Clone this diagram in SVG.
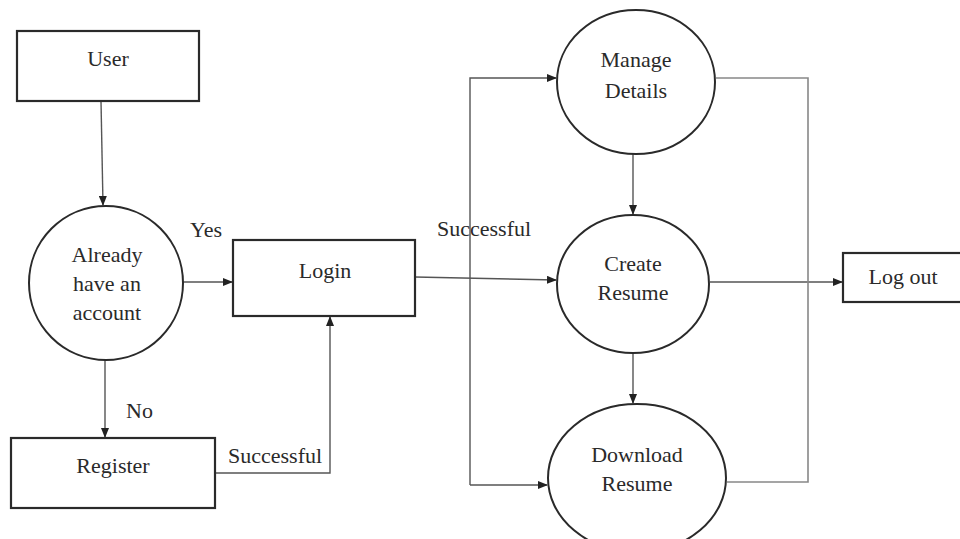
<svg xmlns="http://www.w3.org/2000/svg" width="960" height="539" viewBox="0 0 960 539">
<style>
.box{fill:#fff;stroke:#2a2a2a;stroke-width:2.2}
.proc{fill:#fff;stroke:#2a2a2a;stroke-width:2}
.t{font-family:"Liberation Serif","Times New Roman",serif;font-size:22px;fill:#2a2a2a;text-anchor:middle}
.lbl{font-family:"Liberation Serif","Times New Roman",serif;font-size:22px;fill:#2a2a2a}
.c{fill:none;stroke:#555;stroke-width:1.4}
.c2{fill:none;stroke:#888;stroke-width:1.6}
</style>
<defs>
<marker id="ah" markerUnits="userSpaceOnUse" markerWidth="10" markerHeight="8" refX="9" refY="4" orient="auto">
<path d="M0,0 L10,4 L0,8 z" fill="#222"/>
</marker>
</defs>
<rect width="960" height="539" fill="#fff"/>
<g id="connectors">
<path class="c" d="M101,101 L103,205" marker-end="url(#ah)"/>
<path class="c" d="M183,282 L232,282" marker-end="url(#ah)"/>
<path class="c" d="M105,360 L105,437" marker-end="url(#ah)"/>
<path class="c" d="M215,473 L330,473 L330,317" marker-end="url(#ah)"/>
<path class="c" d="M415,277 L556,280" marker-end="url(#ah)"/>
<path class="c" d="M470,485 L470,78 L556,78" marker-end="url(#ah)"/>
<path class="c" d="M470,485 L547,485" marker-end="url(#ah)"/>
<path class="c" d="M633,154 L633,214" marker-end="url(#ah)"/>
<path class="c" d="M710,282 L842,282" marker-end="url(#ah)"/>
<path class="c" d="M633,353 L633,403" marker-end="url(#ah)"/>
<path class="c2" d="M716,78 L808,78 L808,482 L727,482"/>
<text class="lbl" x="190" y="237">Yes</text>
<text class="lbl" x="126" y="418">No</text>
<text class="lbl" x="228" y="463">Successful</text>
<text class="lbl" x="437" y="236">Successful</text>
</g>
<g id="user">
<rect class="box" x="17" y="31" width="182" height="70"/>
<text class="t" x="108" y="66">User</text>
</g>
<g id="already">
<circle class="proc" cx="106" cy="283" r="77"/>
<text class="t" x="107" y="262">Already</text>
<text class="t" x="107" y="291">have an</text>
<text class="t" x="107" y="320">account</text>
</g>
<g id="login">
<rect class="box" x="233" y="240" width="182" height="76"/>
<text class="t" x="325" y="278">Login</text>
</g>
<g id="register">
<rect class="box" x="11" y="438" width="204" height="70"/>
<text class="t" x="113" y="473">Register</text>
</g>
<g id="manage">
<ellipse class="proc" cx="636" cy="82" rx="79" ry="72"/>
<text class="t" x="636" y="67">Manage</text>
<text class="t" x="636" y="98">Details</text>
</g>
<g id="create">
<ellipse class="proc" cx="633" cy="284" rx="76" ry="69"/>
<text class="t" x="633" y="271">Create</text>
<text class="t" x="633" y="300">Resume</text>
</g>
<g id="download">
<ellipse class="proc" cx="637" cy="478" rx="89" ry="74"/>
<text class="t" x="637" y="462">Download</text>
<text class="t" x="637" y="491">Resume</text>
</g>
<g id="logout">
<rect class="box" x="843" y="253" width="125" height="49"/>
<text class="t" x="903" y="284">Log out</text>
</g>
</svg>
